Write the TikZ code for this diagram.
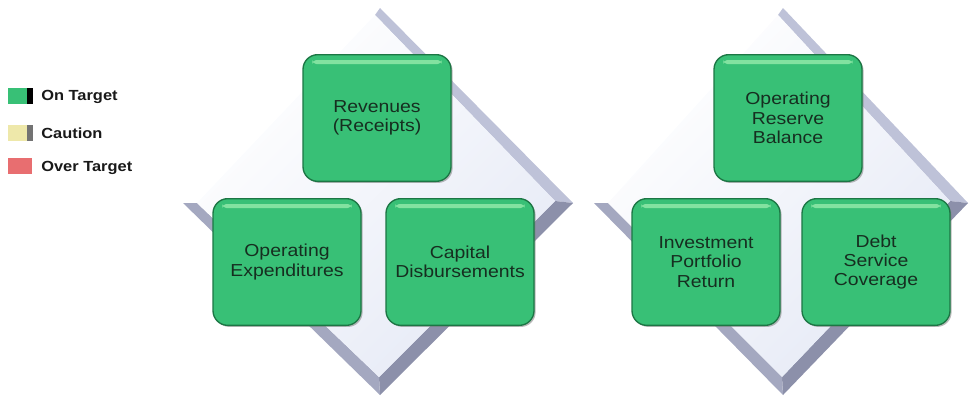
\documentclass[tikz,border=0pt]{standalone}
\usepackage{fontspec}
\setmainfont{Liberation Sans}[FakeStretch=1.12]
\usepackage{tikz}
\usetikzlibrary{shadows}
\definecolor{kpigreen}{RGB}{56,192,118}
\definecolor{kpilight}{RGB}{130,226,160}
\definecolor{kpiedge}{RGB}{28,118,68}
\definecolor{kpitext}{RGB}{22,46,32}
\definecolor{faceblue}{RGB}{230,234,246}
\definecolor{upband}{RGB}{190,194,216}
\definecolor{lrband}{RGB}{140,144,170}
\definecolor{llband}{RGB}{164,168,192}
\definecolor{cautionyel}{RGB}{238,232,170}
\definecolor{overred}{RGB}{232,110,112}
\tikzstyle{kpi}=[rounded corners=11pt,minimum width=111pt,minimum height=95pt,
  inner sep=0pt,align=center,fill=kpigreen,draw=kpiedge,line width=1pt,
  text=kpitext,font=\fontsize{13}{14.5}\selectfont,
  drop shadow={shadow xshift=1.2pt,shadow yshift=-1.2pt,opacity=.55},
  path picture={\fill[kpilight,rounded corners=3pt]
    ([xshift=7pt,yshift=-4pt]path picture bounding box.north west) rectangle
    ([xshift=-7pt,yshift=-7pt]path picture bounding box.north east);}]
\tikzstyle{key}=[minimum width=14pt,minimum height=11.5pt,inner sep=0pt]
\tikzstyle{keytext}=[anchor=west,inner sep=0pt,text=black!90,
  font=\bfseries\fontsize{11}{13}\selectfont]

\begin{document}
\begin{tikzpicture}[x=0.75pt,y=-0.75pt]
\useasboundingbox (0,0) rectangle (970,396);
% the two plates behind the boxes
\foreach \cx/\hw in {378/195,781/187}{
  \fill[upband] (\cx+2,8) -- (\cx+\hw,203) -- (\cx+\hw-18,201) -- (\cx-3,15) -- cycle;
  \fill[lrband] (\cx+\hw,203) -- (\cx+2,395) -- (\cx+1,377) -- (\cx+\hw-18,201) -- cycle;
  \fill[llband] (\cx-\hw,203) -- (\cx+2,395) -- (\cx+1,377) -- (\cx-\hw+14,203) -- cycle;
  \shade[top color=white,bottom color=faceblue,shading angle=45]
    (\cx-3,15) -- (\cx+\hw-18,201) -- (\cx+1,377) -- (\cx-\hw+14,203) -- cycle;
}
% legend
\node[key,fill=kpigreen,minimum width=18.75pt,
  path picture={\fill[black] ([xshift=-4.5pt]path picture bounding box.north east)
  rectangle (path picture bounding box.south east);}] (ongreen) at (20.5,96) {};
\node[keytext] (ontxt) at (41,97) {On Target};
\node[key,fill=cautionyel,minimum width=18.75pt,
  path picture={\fill[black!55] ([xshift=-4.5pt]path picture bounding box.north east)
  rectangle (path picture bounding box.south east);}] (cauyel) at (20.5,133) {};
\node[keytext] (cautxt) at (41,133) {Caution};
\node[key,fill=overred,minimum width=18pt] (ovred) at (20,166) {};
\node[keytext] (ovtxt) at (41,168) {Over Target};
% first group
\node[kpi] (rev) at (377,118) {Revenues\\(Receipts)};
\node[kpi] (opex) at (287,262) {Operating\\Expenditures};
\node[kpi] (capd) at (460,262) {Capital\\Disbursements};
% second group
\node[kpi] (resv) at (788,118) {Operating\\Reserve\\Balance};
\node[kpi] (invp) at (706,262) {Investment\\Portfolio\\Return};
\node[kpi] (dsc) at (876,262) {Debt\\Service\\Coverage};
\end{tikzpicture}
\end{document}
